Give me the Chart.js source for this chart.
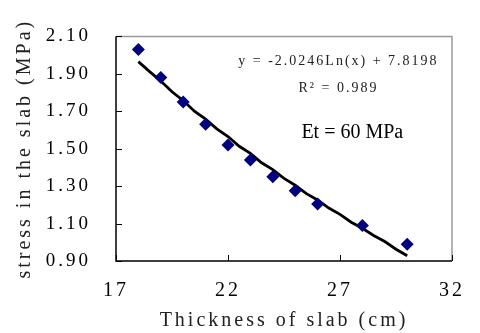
<!DOCTYPE html>
<html>
<head>
<meta charset="utf-8">
<script src="https://cdn.jsdelivr.net/npm/chart.js@4/dist/chart.umd.min.js"></script>
<style>
html,body{margin:0;padding:0;background:#fff;}
#wrap{width:480px;height:333px;position:relative;}
</style>
</head>
<body>
<div id="wrap"><canvas id="c" width="480" height="333"></canvas></div>
<script>
// Measured points
const thickness = [18, 19, 20, 21, 22, 23, 24, 25, 26, 28, 30];
const stress = [2.03, 1.88, 1.75, 1.63, 1.52, 1.44, 1.35, 1.275, 1.205, 1.09, 0.99];
// Trend line
const trendX = [18, 18.5, 19, 19.5, 20, 20.5, 21, 21.5, 22, 22.5, 23, 23.5, 24, 24.5, 25, 25.5, 26, 26.5, 27, 27.5, 28, 28.5, 29, 29.5, 30];
const trendY = [1.965, 1.912, 1.862, 1.804, 1.757, 1.700, 1.658, 1.606, 1.565, 1.513, 1.475, 1.425, 1.388, 1.341, 1.305, 1.260, 1.226, 1.183, 1.149, 1.107, 1.075, 1.036, 1.004, 0.963, 0.928];
// Axis settings
const xTicks = [17, 22, 27, 32];
const yTicks = [0.90, 1.10, 1.30, 1.50, 1.70, 1.90, 2.10];
const xTitle = 'Thickness of slab (cm)';
const yTitle = 'stress in the slab (MPa)';
const equationText = 'y = -2.0246Ln(x) + 7.8198';
const r2Text = 'R\u00B2 = 0.989';
const etText = 'Et = 60 MPa';

const serifFont = "'Liberation Serif', 'DejaVu Serif', serif";

const spacingPlugin = {
  id: 'spacing',
  beforeDraw(chart) { chart.ctx.letterSpacing = '3px'; }
};

const framePlugin = {
  id: 'frame',
  afterDraw(chart) {
    const {ctx, chartArea: a, scales} = chart;
    const xs = scales.x, ys = scales.y;
    ctx.save();
    ctx.strokeStyle = '#999999';
    ctx.lineWidth = 1.5;
    ctx.beginPath();
    ctx.moveTo(a.left, a.top);
    ctx.lineTo(a.right, a.top);
    ctx.lineTo(a.right, a.bottom);
    ctx.stroke();
    ctx.strokeStyle = '#000000';
    ctx.lineWidth = 1.5;
    ctx.beginPath();
    ctx.moveTo(a.left, a.top);
    ctx.lineTo(a.left, a.bottom);
    ctx.lineTo(a.right, a.bottom);
    ctx.stroke();
    ctx.lineWidth = 1;
    ctx.beginPath();
    ys.ticks.forEach(t => {
      const y = Math.round(ys.getPixelForValue(t.value)) + 0.5;
      ctx.moveTo(a.left, y); ctx.lineTo(a.left + 6, y);
    });
    xs.ticks.forEach(t => {
      const x = Math.round(xs.getPixelForValue(t.value)) + 0.5;
      ctx.moveTo(x, a.bottom); ctx.lineTo(x, a.bottom - 6);
    });
    ctx.stroke();
    ctx.textAlign = 'center';
    ctx.textBaseline = 'middle';
    ctx.fillStyle = '#222222';
    ctx.letterSpacing = '2px';
    ctx.font = "14px " + serifFont;
    ctx.fillText(equationText, xs.getPixelForValue(26.93), ys.getPixelForValue(1.965));
    ctx.fillText(r2Text, xs.getPixelForValue(26.93), ys.getPixelForValue(1.825));
    ctx.letterSpacing = '0px';
    ctx.fillStyle = '#000000';
    ctx.font = "20px " + serifFont;
    ctx.fillText(etText, xs.getPixelForValue(27.55), ys.getPixelForValue(1.585));
    ctx.restore();
  }
};

new Chart(document.getElementById('c'), {
  type: 'scatter',
  data: {
    datasets: [
      {
        label: 'trend',
        data: trendX.map((x, i) => ({x, y: trendY[i]})),
        showLine: true,
        borderColor: '#000000',
        borderWidth: 2.8,
        pointRadius: 0,
        tension: 0,
        order: 2
      },
      {
        label: 'stress',
        data: thickness.map((x, i) => ({x, y: stress[i]})),
        pointStyle: 'rectRot',
        pointRadius: 6.5,
        backgroundColor: '#000080',
        borderColor: '#000080',
        borderWidth: 0,
        order: 1
      }
    ]
  },
  options: {
    responsive: false,
    animation: false,
    layout: {padding: {top: 20, right: 20, left: 0, bottom: 0}},
    plugins: {legend: {display: false}, tooltip: {enabled: false}},
    scales: {
      x: {
        type: 'linear',
        min: 17, max: 32,
        afterBuildTicks: s => { s.ticks = xTicks.map(v => ({value: v})); },
        afterFit: s => { s.height = 72; },
        grid: {display: false, drawTicks: false},
        border: {display: false},
        ticks: {
          padding: 18,
          color: '#000000',
          font: {family: serifFont, size: 20},
          callback: v => String(v)
        },
        title: {
          display: true,
          text: xTitle,
          color: '#222222',
          font: {family: serifFont, size: 20},
          padding: {top: 0, bottom: 0}
        }
      },
      y: {
        type: 'linear',
        min: 0.9, max: 2.1,
        afterBuildTicks: s => { s.ticks = yTicks.map(v => ({value: v})); },
        afterFit: s => { s.width = 116; },
        grid: {display: false, drawTicks: false},
        border: {display: false},
        ticks: {
          padding: 25,
          color: '#000000',
          font: {family: serifFont, size: 19},
          callback: v => Number(v).toFixed(2)
        },
        title: {
          display: true,
          text: yTitle,
          color: '#222222',
          font: {family: serifFont, size: 20},
          padding: {top: 13, bottom: 0}
        }
      }
    }
  },
  plugins: [spacingPlugin, framePlugin]
});
</script>
</body>
</html>
